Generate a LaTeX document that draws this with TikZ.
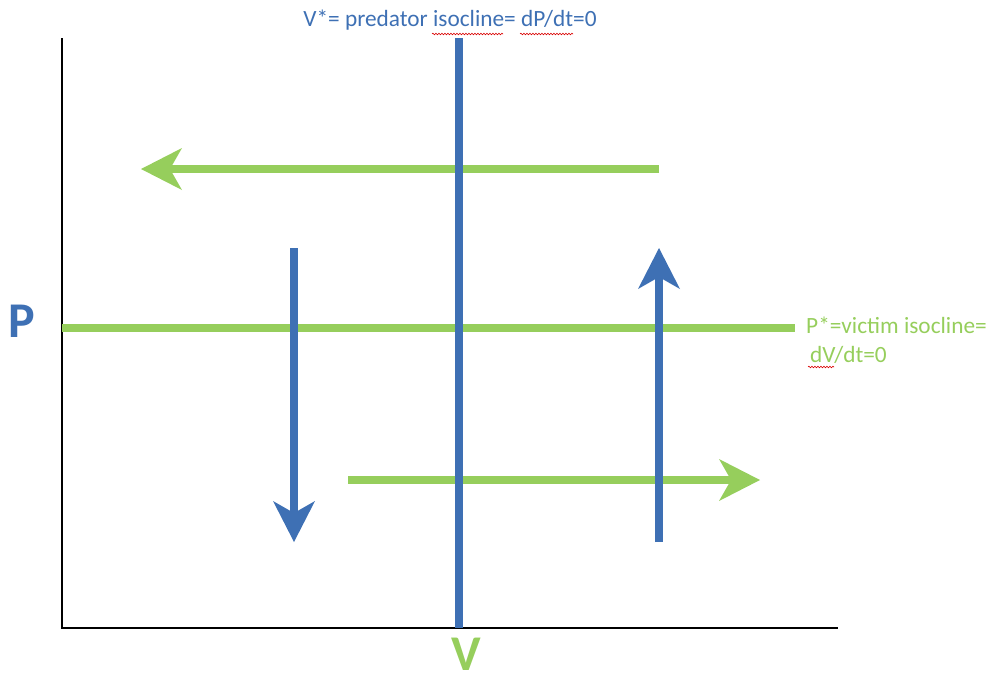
\documentclass[tikz,border=0pt]{standalone}
\usepackage{fontspec}
\setmainfont{Carlito}
\usetikzlibrary{arrows.meta,decorations.pathmorphing}
\definecolor{isoBlue}{RGB}{62,112,180}
\definecolor{isoGreen}{RGB}{150,206,92}
\tikzset{
  axisLine/.style={draw=black,line width=1.3pt},
  isoLine/.style={line width=8.5pt},
  flowArrow/.style={line width=8pt,-{Stealth[length=41pt,width=42pt,inset=12pt,line width=0pt]}},
  isoLabel/.style={inner sep=0pt,font=\fontsize{23.3}{29}\selectfont},
  axisLabel/.style={inner sep=0pt,font=\fontsize{50}{50}\selectfont\bfseries},
  spell/.style={draw=red!85!black,line width=0.6pt,decorate,decoration={snake,amplitude=0.8pt,segment length=3pt}}
}
\begin{document}
\begin{tikzpicture}[x=1pt,y=-1pt]
  \useasboundingbox (0,0) rectangle (990,673);
  % axes
  \coordinate (o) at (62,628);
  \coordinate (ytop) at (62,38);
  \coordinate (xend) at (838,628);
  \draw[axisLine] (ytop) -- (o) -- (xend);
  % isoclines
  \coordinate (pL) at (62,328);
  \coordinate (pR) at (795,328);
  \coordinate (vT) at (459,38);
  \coordinate (vB) at (459,628);
  \draw[isoLine,isoGreen] (pL) -- (pR);
  % victim arrows
  \coordinate (g1s) at (659,169);
  \coordinate (g1e) at (141,169);
  \coordinate (g2s) at (348,480);
  \coordinate (g2e) at (760,480);
  \draw[flowArrow,isoGreen] (g1s) -- (g1e);
  \draw[flowArrow,isoGreen] (g2s) -- (g2e);
  \draw[isoLine,isoBlue] (vT) -- (vB);
  % predator arrows
  \coordinate (b1s) at (294,248);
  \coordinate (b1e) at (294,542);
  \coordinate (b2s) at (659,542);
  \coordinate (b2e) at (659,248);
  \draw[flowArrow,isoBlue] (b1s) -- (b1e);
  \draw[flowArrow,isoBlue] (b2s) -- (b2e);
  % labels
  \node[isoLabel,text=isoBlue,anchor=base] (vstar) at (450,26) {V*= predator isocline= dP/dt=0};
  \node[isoLabel,text=isoGreen,anchor=base west,align=left] (pstar) at (806,362) {P*=victim isocline=\\\,dV/dt=0};
  \node[axisLabel,text=isoBlue,anchor=base] (plab) at (22,337) {P};
  \node[axisLabel,text=isoGreen,anchor=base] (vlab) at (466,670) {V};
  % spell check marks
  \draw[spell] (432,34) -- (503,34);
  \draw[spell] (520,34) -- (573,34);
  \draw[spell] (808,367) -- (834,367);
\end{tikzpicture}
\end{document}
